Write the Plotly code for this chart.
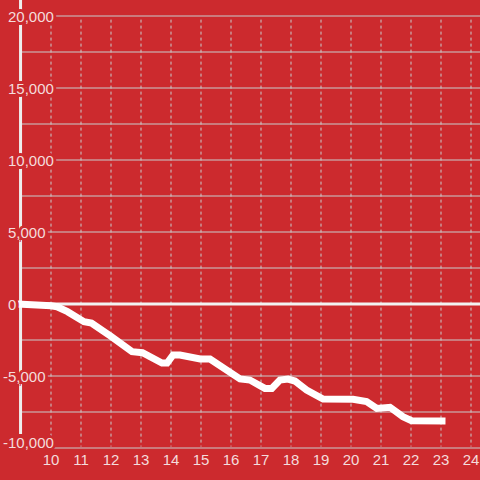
import plotly.graph_objects as go

# ---- data ----
x_vals = [8.88, 9.5, 10.0, 10.2, 10.55, 11.1, 11.35, 12.0, 12.7, 13.05, 13.7, 13.87,
          14.07, 14.3, 14.97, 15.3, 15.63, 16.3, 16.63, 17.13, 17.36, 17.63, 17.9,
          18.13, 18.52, 19.07, 20.07, 20.52, 20.86, 21.3, 21.73, 22.02, 23.15]
y_vals = [0, 0, -120, -190, -530, -1230, -1320, -2250, -3310, -3380, -4100, -4100,
          -3540, -3540, -3820, -3820, -4240, -5200, -5280, -5860, -5860, -5280, -5210,
          -5350, -5970, -6600, -6620, -6780, -7250, -7170, -7820, -8100, -8120]
x_ticks = list(range(10, 25))
y_ticks = [-10000, -5000, 0, 5000, 10000, 15000, 20000]
y_tick_labels = ["-10,000", "-5,000", "0", "5,000", "10,000", "15,000", "20,000"]
y_grid = [-10000, -7500, -5000, -2500, 2500, 5000, 7500, 10000, 12500, 15000, 17500, 20000]

BG = "#cc2a2e"
GRID = "#c8cccc"
LABEL = "#f4dcdc"
FONT = "Liberation Sans"

X0, X1 = 8.3, 24.3
Y0, Y1 = -10069, 21111

halo = ", ".join(f"{dx}px {dy}px 0 {BG}" for dx, dy in
                 [(2, 0), (-2, 0), (0, 2), (0, -2), (2, 2), (-2, -2), (2, -2), (-2, 2),
                  (1, 0), (-1, 0), (0, 1), (0, -1), (3, 0), (-3, 0), (0, 3), (0, -3)])

fig = go.Figure()
fig.add_trace(go.Scatter(x=x_vals, y=y_vals, mode="lines",
                         line=dict(color="#ffffff", width=7),
                         hoverinfo="skip", showlegend=False))

shapes = []
# horizontal gridlines
for g in y_grid:
    shapes.append(dict(type="line", xref="x", yref="y", x0=9.0, x1=X1, y0=g, y1=g,
                       line=dict(color=GRID, width=1), layer="below"))
# vertical dashed gridlines
for t in x_ticks:
    shapes.append(dict(type="line", xref="x", yref="y", x0=t, x1=t, y0=19750, y1=-9900,
                       line=dict(color=GRID, width=1, dash="3px,3px"), layer="below"))
# zero line
shapes.append(dict(type="line", xref="x", yref="y", x0=9.0, x1=X1, y0=0, y1=0,
                   line=dict(color="#f2f2f2", width=3), layer="below"))
# y axis line
shapes.append(dict(type="line", xref="x", yref="y", x0=8.985, x1=8.985, y0=Y1, y1=-9028,
                   line=dict(color="#eeeeee", width=3), layer="below"))

annotations = []
for v, lab in zip(y_ticks, y_tick_labels):
    px = 2 if v < 0 else 6.5
    annotations.append(dict(x=px / 480, xref="paper", y=v, yref="y", text=lab,
                            showarrow=False, xanchor="left", yanchor="middle",
                            yshift=6 if v == y_ticks[0] else 0,
                            font=dict(family=FONT, size=15, color=LABEL, shadow=halo),
                            borderpad=0))

fig.update_layout(
    width=480, height=480,
    margin=dict(l=0, r=0, t=0, b=31, autoexpand=False),
    paper_bgcolor=BG, plot_bgcolor=BG,
    shapes=shapes, annotations=annotations,
    showlegend=False,
    xaxis=dict(range=[X0, X1], showgrid=False, zeroline=False, showline=False,
               tickvals=x_ticks, ticktext=[str(t) for t in x_ticks], ticks="",
               automargin=False,
               tickfont=dict(family=FONT, size=15, color=LABEL), fixedrange=True),
    yaxis=dict(range=[Y0, Y1], showgrid=False, zeroline=False, showline=False,
               automargin=False,
               showticklabels=False, ticks="", fixedrange=True),
)

fig.write_html("out.html", config={"displayModeBar": False},
               post_script="document.body.style.margin='0';document.body.style.background='#cc2a2e';")
